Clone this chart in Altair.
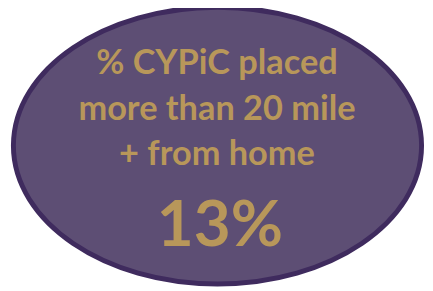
import altair as alt
import pandas as pd

# Text content
label_lines = ["% CYPiC placed", "more than 20 mile", "+ from home"]
value_text = ["13%"]

# Ellipse shape (unit path, scaled by the symbol size)
ELLIPSE = "M -1 0 A 1 0.678 0 1 0 1 0 A 1 0.678 0 1 0 -1 0 Z"

FILL = "#5d4e74"
BORDER = "#3f2b5e"
GOLD = "#b8975a"
FONT = "Lato"

W, H = 425, 283

label_df = pd.DataFrame({"line": label_lines, "idx": list(range(len(label_lines)))})
value_df = pd.DataFrame({"value": value_text})
shape_df = pd.DataFrame({"k": [0]})

ellipse = alt.Chart(shape_df).mark_point(
    shape=ELLIPSE, filled=True, fill=FILL, stroke=BORDER, strokeWidth=5, opacity=1
).encode(
    x=alt.value(213.5), y=alt.value(137.5), size=alt.value(416 * 416)
)

labels = alt.Chart(label_df).mark_text(
    font=FONT, fontWeight="bold", fontSize=35, color=GOLD, align="center", baseline="alphabetic"
).encode(
    x=alt.value(213),
    y=alt.Y("idx:Q", scale=alt.Scale(domain=[0, 2], range=[65, 157]), axis=None),
    text="line:N",
)

value = alt.Chart(value_df).mark_text(
    font=FONT, fontWeight="bold", fontSize=65, color=GOLD, align="center", baseline="alphabetic"
).encode(
    x=alt.value(216), y=alt.value(240), text="value:N"
)

chart = alt.layer(ellipse, labels, value).properties(
    width=W, height=H, padding=0, autosize=alt.AutoSizeParams(type="none"),
    background="white",
).configure_view(stroke=None)

chart.save("out.html", embed_options={"renderer": "svg", "actions": False})
